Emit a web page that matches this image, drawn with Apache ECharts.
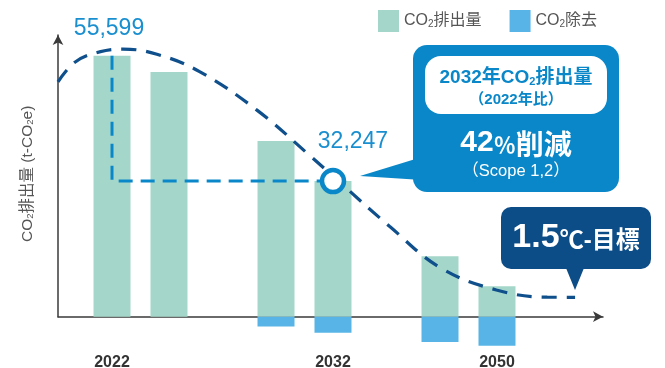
<!DOCTYPE html>
<html><head><meta charset="utf-8">
<script src="https://cdn.jsdelivr.net/npm/echarts@6/dist/echarts.min.js"></script>
<style>html,body{margin:0;padding:0;background:#fff}#c{width:665px;height:368px}</style>
</head><body><div id="c"></div>
<script>
// ---- data ----
const categories = ['2022', '2032', '2050'];
const labelBar = [0, 1, 1];                 // year label sits under 1st (0) or 2nd (1) bar of the group
const emissionsFirst  = [55599, 37400, 12900];
const emissionsSecond = [52100, 28900, 6500];
const removalFirst  = [0, -2100, -5400];
const removalSecond = [0, -3400, -6200];
const valueLabelsFirst  = ['55,599', '', ''];
const valueLabelsSecond = ['', '32,247', ''];
// 1.5°C pathway, x in category units (0 = first group centre), y in t-CO2e
const pathway = [[-0.503, 50000], [-0.40, 54200], [-0.25, 56400], [-0.107, 57000], [0.10, 55900],
  [0.36, 52200], [0.71, 44000], [1.03, 34400], [1.20, 29100], [1.52, 19200], [1.83, 10400],
  [2.17, 5700], [2.48, 4150], [2.65, 4130]];

// ---- style / layout ----
const FONT = "'Liberation Sans', 'Noto Sans CJK JP', sans-serif";
const JP = "'Noto Sans CJK JP', sans-serif";
const EMIS = '#a4d7ca', REM = '#58b4e6', BLUE = '#0a87c8', DARK = '#0c4c87', CURVE = '#0f4f8c';
const BAR_W = 37, BAR_GAP = 0.54, CAT_W = 164;
const GA_LEFT = 58.5, GB_LEFT = 58, GB_RIGHT_PX = 603;
const SHIFT = BAR_W * (1 + BAR_GAP) / 2;         // px offset of a bar from group centre
const OFF = SHIFT / CAT_W;                        // same in category units
const xMinB = -(GA_LEFT + CAT_W / 2 - GB_LEFT) / CAT_W;
const xMaxB = (GB_RIGHT_PX - GA_LEFT - CAT_W / 2) / CAT_W;
const Y_MAX = 60000, Y_MIN = -8000, PX_PER = 213;

const chart = echarts.init(document.getElementById('c'), null, {renderer: 'canvas'});

function labeled(vals, labels) {
  return vals.map((v, i) => ({value: v, label: {show: !!labels[i], formatter: labels[i] || ''}}));
}
const barBase = {type: 'bar', xAxisIndex: 0, yAxisIndex: 0, barWidth: BAR_W, barGap: (BAR_GAP * 100) + '%',
  emphasis: {disabled: true}, silent: true};
const valLabel = {position: 'top', color: '#1a8fd0', fontSize: 23, fontFamily: FONT};
const guide = [[-OFF, emissionsFirst[0]], [-OFF, emissionsSecond[1]], [1 + OFF, emissionsSecond[1]]];
const subRich = (size, color, weight) => ({fontSize: size, color: color, fontWeight: weight || 'normal', fontFamily: FONT, verticalAlign: 'bottom'});

const option = {
  animation: false,
  backgroundColor: '#fff',
  textStyle: {fontFamily: FONT},
  grid: [
    {left: GA_LEFT, width: CAT_W * categories.length, top: 35, height: (Y_MAX - Y_MIN) / PX_PER, outerBoundsMode: 'none', containLabel: false},
    {left: GB_LEFT, right: 665 - GB_RIGHT_PX, top: 35, height: Y_MAX / PX_PER, outerBoundsMode: 'none', containLabel: false}
  ],
  legend: {
    left: 378, top: 10, padding: 0, itemWidth: 21, itemHeight: 22, itemGap: 28, icon: 'rect',
    data: ['CO2排出量', 'CO2除去'],
    formatter: n => n.replace('2', '{s|2}'),
    textStyle: {fontSize: 16, color: '#555', fontFamily: FONT, rich: {s: subRich(10, '#555')}}
  },
  xAxis: [
    {type: 'category', gridIndex: 0, data: categories, axisLine: {show: false}, axisTick: {show: false},
      axisLabel: {interval: 0, margin: 0,
        formatter: (v, i) => (labelBar[i] === 0 ? '{l|' : '{r|') + v + '}',
        rich: {
          l: {padding: [0, SHIFT * 2, 0, 0], fontSize: 16, fontWeight: 'bold', color: '#333', fontFamily: FONT},
          r: {padding: [0, 0, 0, SHIFT * 2], fontSize: 16, fontWeight: 'bold', color: '#333', fontFamily: FONT}
        }}},
    {type: 'value', gridIndex: 1, min: xMinB, max: xMaxB, splitLine: {show: false}, axisTick: {show: false},
      axisLabel: {show: false},
      axisLine: {show: true, onZero: false, symbol: ['none', 'arrow'], symbolSize: [8, 10], lineStyle: {color: '#3a3a3a', width: 1.5}}}
  ],
  yAxis: [
    {type: 'value', gridIndex: 0, min: Y_MIN, max: Y_MAX, show: false, splitLine: {show: false}},
    {type: 'value', gridIndex: 1, min: 0, max: Y_MAX, splitLine: {show: false}, axisTick: {show: false},
      axisLabel: {show: false},
      name: 'CO{s|2}排出量 (t-CO{s|2}e)', nameLocation: 'middle', nameRotate: 90, nameGap: 23,
      nameTextStyle: {fontSize: 15.5, color: '#555', fontFamily: FONT, padding: [0, 0, 0, 4], rich: {s: subRich(9.5, '#555')}},
      axisLine: {show: true, onZero: false, symbol: ['none', 'arrow'], symbolSize: [8, 10], lineStyle: {color: '#3a3a3a', width: 1.5}}}
  ],
  series: [
    Object.assign({}, barBase, {name: 'CO2排出量', stack: 'first', itemStyle: {color: EMIS},
      data: labeled(emissionsFirst, valueLabelsFirst), label: Object.assign({distance: 16, offset: [-3, 0]}, valLabel)}),
    Object.assign({}, barBase, {name: 'CO2排出量', stack: 'second', itemStyle: {color: EMIS},
      data: labeled(emissionsSecond, valueLabelsSecond), label: Object.assign({distance: 28, offset: [20, 0]}, valLabel)}),
    Object.assign({}, barBase, {name: 'CO2除去', stack: 'first', itemStyle: {color: REM}, data: removalFirst}),
    Object.assign({}, barBase, {name: 'CO2除去', stack: 'second', itemStyle: {color: REM}, data: removalSecond}),
    {type: 'line', xAxisIndex: 1, yAxisIndex: 1, data: pathway, smooth: 0.4, showSymbol: false, silent: true, z: 4,
      lineStyle: {color: CURVE, width: 3.2, type: [15, 10]}},
    {type: 'line', xAxisIndex: 1, yAxisIndex: 1, data: guide, showSymbol: false, silent: true, z: 4,
      lineStyle: {color: BLUE, width: 3, type: [14, 8]}},
    {type: 'scatter', xAxisIndex: 1, yAxisIndex: 1, data: [[1 + OFF, emissionsSecond[1]]], symbolSize: 22, silent: true, z: 6,
      itemStyle: {color: '#fff', borderColor: BLUE, borderWidth: 4.5, opacity: 1}}
  ],
  graphic: [
    {type: 'polygon', z: 10, shape: {points: [[360, 176], [422, 157], [422, 180]]}, style: {fill: BLUE}},
    {type: 'rect', z: 10, shape: {x: 413, y: 45, width: 206, height: 147, r: 14}, style: {fill: BLUE}},
    {type: 'rect', z: 11, shape: {x: 425, y: 56, width: 182, height: 58, r: 16}, style: {fill: '#fff'}},
    {type: 'text', z: 12, x: 516, y: 78, style: {text: '2032年CO{s|2}排出量', align: 'center', verticalAlign: 'middle',
      fill: BLUE, fontSize: 19, fontWeight: 'bold', fontFamily: FONT,
      rich: {s: {fontSize: 11, fontWeight: 'bold', fill: BLUE, fontFamily: FONT, verticalAlign: 'bottom'}}}},
    {type: 'text', z: 12, x: 516, y: 100, style: {text: '（2022年比）', align: 'center', verticalAlign: 'middle',
      fill: BLUE, fontSize: 15, fontWeight: 'bold', fontFamily: FONT}},
    {type: 'text', z: 12, x: 516, y: 143, style: {text: '{n|42}{p|％}{k|削減}', align: 'center', verticalAlign: 'middle',
      fill: '#fff', fontFamily: FONT, rich: {
        n: {fontSize: 30, fontWeight: 'bold', fill: '#fff', fontFamily: FONT, verticalAlign: 'bottom'},
        p: {fontSize: 22, fontWeight: 'bold', fill: '#fff', fontFamily: JP, verticalAlign: 'bottom', padding: [0, 0, 2, 0]},
        k: {fontSize: 28, fontWeight: 'bold', fill: '#fff', fontFamily: JP, verticalAlign: 'bottom', padding: [0, 0, 0, 0]}}}},
    {type: 'text', z: 12, x: 516, y: 171, style: {text: '（Scope 1,2）', align: 'center', verticalAlign: 'middle',
      fill: '#fff', fontSize: 16.5, fontFamily: FONT}},
    {type: 'polygon', z: 10, shape: {points: [[566, 268], [584, 268], [575, 290]]}, style: {fill: DARK}},
    {type: 'rect', z: 10, shape: {x: 501, y: 207, width: 150, height: 62, r: 10}, style: {fill: DARK}},
    {type: 'text', z: 12, x: 576, y: 238, style: {text: '{n|1.5}{k|℃-目標}', align: 'center', verticalAlign: 'middle',
      fill: '#fff', fontFamily: FONT, rich: {
        n: {fontSize: 34, fontWeight: 'bold', fill: '#fff', fontFamily: FONT, verticalAlign: 'bottom'},
        k: {fontSize: 24, fontWeight: 'bold', fill: '#fff', fontFamily: FONT, verticalAlign: 'bottom', padding: [0, 0, 2, 0]}}}}
  ]
};
chart.setOption(option);
</script></body></html>
